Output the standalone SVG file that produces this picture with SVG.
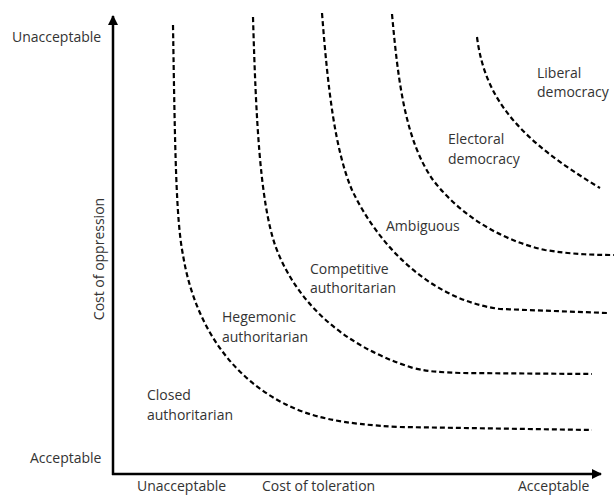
<svg xmlns="http://www.w3.org/2000/svg" width="616" height="497" viewBox="0 0 616 497">
<style>
.lbl{font-family:"Open Sans","Liberation Sans",sans-serif;font-size:14px;fill:#333}
.axis{stroke:#000;stroke-width:2.5;fill:none}
.curve{stroke:#000;stroke-width:2.2;fill:none;stroke-dasharray:5 3}
</style>
<defs>
<marker id="arr" viewBox="0 0 10 10" refX="9" refY="5" markerWidth="4" markerHeight="4" orient="auto" markerUnits="strokeWidth">
<path d="M0,0 L10,5 L0,10 z" fill="#000"/>
</marker>
</defs>
<g id="axes">
<path class="axis" d="M113,475 L113,16" marker-end="url(#arr)"/>
<path class="axis" d="M112,474 L601,474" marker-end="url(#arr)"/>
</g>
<g id="connectors">
<path class="curve" d="M173,25 C175,150 176,220 183,255 C192,310 220,370 283,403 C310,417 340,424 400,427 L592,430"/>
<path class="curve" d="M253,17 C256,120 260,200 275,245 C295,300 340,345 413,368 C430,372 440,372 460,373 L592,374"/>
<path class="curve" d="M322,13 C328,90 335,150 352,190 C378,245 430,300 500,309 L607,313"/>
<path class="curve" d="M392,14 C398,80 405,140 433,180 C460,215 500,240 545,250 C570,254 590,255 614,255"/>
<path class="curve" d="M477,37 C485,100 520,140 600,188"/>
</g>
<g id="axis-labels">
<text class="lbl" x="12" y="42">Unacceptable</text>
<text class="lbl" x="30" y="463">Acceptable</text>
<text class="lbl" x="137" y="491">Unacceptable</text>
<text class="lbl" x="262" y="491">Cost of toleration</text>
<text class="lbl" x="518" y="491">Acceptable</text>
<text class="lbl" transform="translate(104,259) rotate(-90)" text-anchor="middle">Cost of oppression</text>
</g>
<g id="liberal-democracy"><text class="lbl" x="537" y="78">Liberal</text><text class="lbl" x="537" y="97">democracy</text></g>
<g id="electoral-democracy"><text class="lbl" x="448" y="144">Electoral</text><text class="lbl" x="448" y="164">democracy</text></g>
<g id="ambiguous"><text class="lbl" x="386" y="231">Ambiguous</text></g>
<g id="competitive-authoritarian"><text class="lbl" x="310" y="274">Competitive</text><text class="lbl" x="310" y="293">authoritarian</text></g>
<g id="hegemonic-authoritarian"><text class="lbl" x="222" y="322">Hegemonic</text><text class="lbl" x="222" y="342">authoritarian</text></g>
<g id="closed-authoritarian"><text class="lbl" x="147" y="400">Closed</text><text class="lbl" x="147" y="420">authoritarian</text></g>
</svg>
